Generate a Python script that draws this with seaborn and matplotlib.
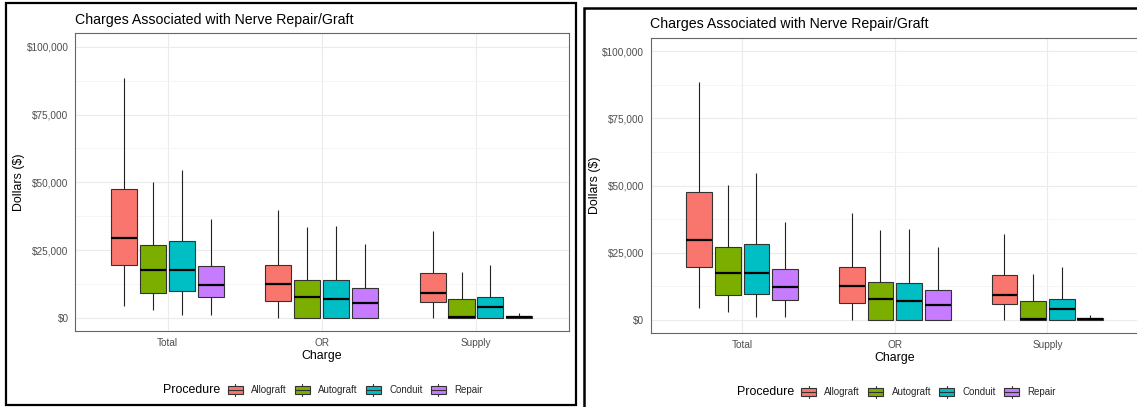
import numpy as np
import pandas as pd
import matplotlib
matplotlib.use("Agg")
import matplotlib.pyplot as plt
import seaborn as sns
from matplotlib.patches import Rectangle, Patch
from matplotlib.lines import Line2D
from matplotlib.legend_handler import HandlerBase

# values: (min, q1, median, q3, max) per charge
charges = ['Total', 'OR', 'Supply']
procedures = ['Allograft', 'Autograft', 'Conduit', 'Repair']
allograft = [[4400, 19500, 29600, 47600, 88400],
             [0, 6300, 12600, 19600, 39600],
             [0, 5800, 9200, 16600, 32000]]
autograft = [[3000, 9100, 17600, 27000, 50100],
             [0, 0, 7800, 14100, 33500],
             [0, 0, 400, 6900, 17000]]
conduit = [[1000, 9800, 17600, 28300, 54500],
           [0, 0, 7000, 13900, 33700],
           [0, 0, 3900, 7800, 19500]]
repair = [[1000, 7500, 12100, 19100, 36500],
          [0, 0, 5400, 11100, 27300],
          [0, 0, 300, 700, 1700]]
y_ticks = [0, 25000, 50000, 75000, 100000]
y_tick_labels = ['$0', '$25,000', '$50,000', '$75,000', '$100,000']
title = 'Charges Associated with Nerve Repair/Graft'

colors = ['#F8766D', '#7CAE00', '#00BFC4', '#C77CFF']

rows = []
for proc, series in zip(procedures, [allograft, autograft, conduit, repair]):
    for charge, vals in zip(charges, series):
        for v in vals:
            rows.append({'Charge': charge, 'Procedure': proc, 'Dollars': v})
df = pd.DataFrame(rows)

sns.set_style('white')
plt.rcParams['font.family'] = ['Liberation Sans', 'DejaVu Sans']

W, H = 1137, 407
fig = plt.figure(figsize=(W / 100, H / 100), dpi=100)


def fx(x):
    return x / W


def fy(y):
    return 1 - y / H


class BoxKey(HandlerBase):
    def create_artists(self, legend, orig_handle, xdescent, ydescent, width, height, fontsize, trans):
        x0, y0 = -xdescent, -ydescent
        cx = x0 + width / 2
        rect = Rectangle((x0, y0 + height * 0.12), width, height * 0.76,
                         facecolor=orig_handle.get_facecolor(), edgecolor='#333333', lw=0.8, transform=trans)
        mid = Line2D([x0, x0 + width], [y0 + height / 2] * 2, color='#333333', lw=0.8, transform=trans)
        top = Line2D([cx, cx], [y0 + height * 0.88, y0 + height * 1.1], color='#333333', lw=0.8, transform=trans)
        bot = Line2D([cx, cx], [y0 - height * 0.1, y0 + height * 0.12], color='#333333', lw=0.8, transform=trans)
        return [rect, mid, top, bot]


def draw_panel(p):
    x0, x1, yt, yb = p['panel']
    ax = fig.add_axes([fx(x0), fy(yb), fx(x1 - x0), (yb - yt) / H])
    sns.boxplot(data=df, x='Charge', y='Dollars', hue='Procedure', order=charges,
                hue_order=procedures, palette=colors, saturation=1, width=0.75, gap=0.1,
                whis=(0, 100), linecolor='#333333', linewidth=0.8, fliersize=0,
                medianprops={'color': 'black', 'linewidth': 1.6},
                whiskerprops={'color': '#222222', 'linewidth': 0.8},
                capprops={'visible': False}, legend=False, ax=ax)
    ax.set_xlim(-0.6, 2.6)
    ax.set_ylim(-5000, 105000)
    ax.set_yticks(y_ticks)
    ax.set_yticklabels(y_tick_labels)
    ax.set_yticks([12500, 37500, 62500, 87500], minor=True)
    ax.grid(True, which='major', color='#ebebeb', lw=0.8)
    ax.grid(True, which='minor', axis='y', color='#f2f2f2', lw=0.5)
    ax.set_axisbelow(True)
    ax.tick_params(axis='both', which='major', length=2.8, width=0.6, color='#333333',
                   labelsize=7.2, labelcolor='#4d4d4d', pad=1.8)
    ax.tick_params(axis='both', which='minor', length=0)
    ax.set_xlabel('')
    ax.set_ylabel('')
    for s in ax.spines.values():
        s.set_visible(True)
        s.set_color('#666666')
        s.set_linewidth(0.8)

    fig.text(fx(x0), fy(p['title_y']), title, ha='left', va='center', fontsize=10.2, color='black')
    fig.text(fx(p['ylab_x']), fy((yt + yb) / 2), 'Dollars ($)', rotation=90, ha='center', va='center',
             fontsize=8.9, color='black')
    fig.text(fx((x0 + x1) / 2), fy(p['xlab_y']), 'Charge', ha='center', va='center',
             fontsize=8.9, color='black')
    fig.text(fx(p['leg_title_x']), fy(p['leg_y']), 'Procedure', ha='left', va='center',
             fontsize=8.9, color='black')
    handles = [Patch(facecolor=c) for c in colors]
    ax.legend(handles, procedures, handler_map={Patch: BoxKey()}, loc='center left',
              bbox_to_anchor=(fx(p['leg_key_x']), fy(p['leg_y'])), bbox_transform=fig.transFigure,
              ncol=4, frameon=False, fontsize=7, handlelength=1.55, handleheight=1.2,
              handletextpad=0.85, columnspacing=0.85, borderpad=0, borderaxespad=0)


panels = [
    {'panel': (75, 568.5, 33.3, 331.3), 'title_y': 20, 'ylab_x': 18.6, 'xlab_y': 355.7,
     'leg_y': 390, 'leg_title_x': 163, 'leg_key_x': 227.5},
    {'panel': (650.5, 1139, 37.7, 333.3), 'title_y': 24, 'ylab_x': 595, 'xlab_y': 357.7,
     'leg_y': 392, 'leg_title_x': 737, 'leg_key_x': 801},
]
for p in panels:
    draw_panel(p)

# outer frames around each screenshot
fig.add_artist(Rectangle((fx(6), fy(405)), fx(570), 402 / H, fill=False, ec='black', lw=1.6,
                         transform=fig.transFigure))
fig.add_artist(Rectangle((fx(583.5), fy(412)), fx(560), 404 / H, fill=False, ec='black', lw=1.8,
                         transform=fig.transFigure))

fig.savefig('out.png', dpi=100)
